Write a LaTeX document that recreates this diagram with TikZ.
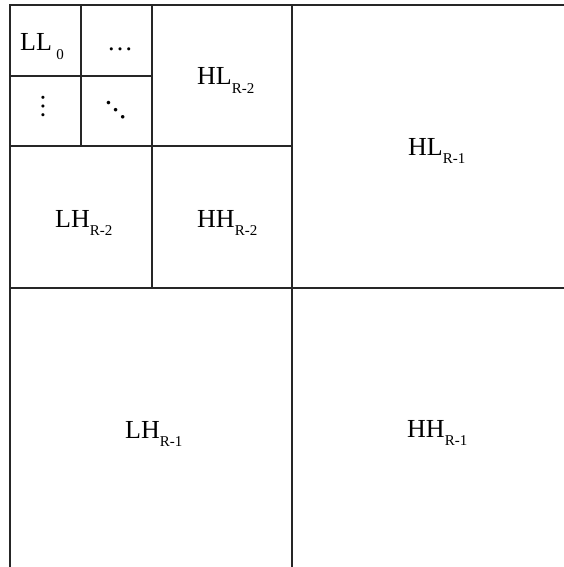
\documentclass[tikz,border=0pt]{standalone}
\usepackage{amsmath}
\usepackage{fontspec}
\setmainfont{Liberation Serif}
\newcommand{\lvl}[1]{\raisebox{-8.5pt}{\fontsize{15}{15}\selectfont #1}}

\begin{document}
\begin{tikzpicture}[
    x=1pt, y=-1pt,
    band/.style={draw=black!85, line width=1.5pt},
    every node/.style={inner sep=0pt, font=\fontsize{26}{30}\selectfont},
    label/.style={anchor=base west},
  ]
  \useasboundingbox (0,0) rectangle (564,567);

  % Outer frame and level splits
  \draw[band] (10,5) rectangle (574,571);
  \draw[band] (292,5) -- (292,571);
  \draw[band] (10,288) -- (574,288);
  \draw[band] (152,5) -- (152,288);
  \draw[band] (10,146) -- (292,146);
  \draw[band] (81,5) -- (81,146);
  \draw[band] (10,76) -- (152,76);

  % Sub-band labels
  \node[label] (ll0)  at (20,51)   {LL\,\lvl{0}};
  \node[label] (hdot) at (107,51)  {…};
  \node        (vdot) at (43,107)  {\rotatebox[origin=c]{-90}{…}};
  \node        (ddot) at (116,110) {\rotatebox[origin=c]{-45}{\fontsize{30}{30}\selectfont …}};
  \node[label] (hl2)  at (197,85)  {HL\lvl{R-2}};
  \node[label] (lh2)  at (55,227)  {LH\lvl{R-2}};
  \node[label] (hh2)  at (197,227) {HH\lvl{R-2}};
  \node[label] (hl1)  at (408,155) {HL\lvl{R-1}};
  \node[label] (lh1)  at (125,438) {LH\lvl{R-1}};
  \node[label] (hh1)  at (407,437) {HH\lvl{R-1}};

\end{tikzpicture}
\end{document}
